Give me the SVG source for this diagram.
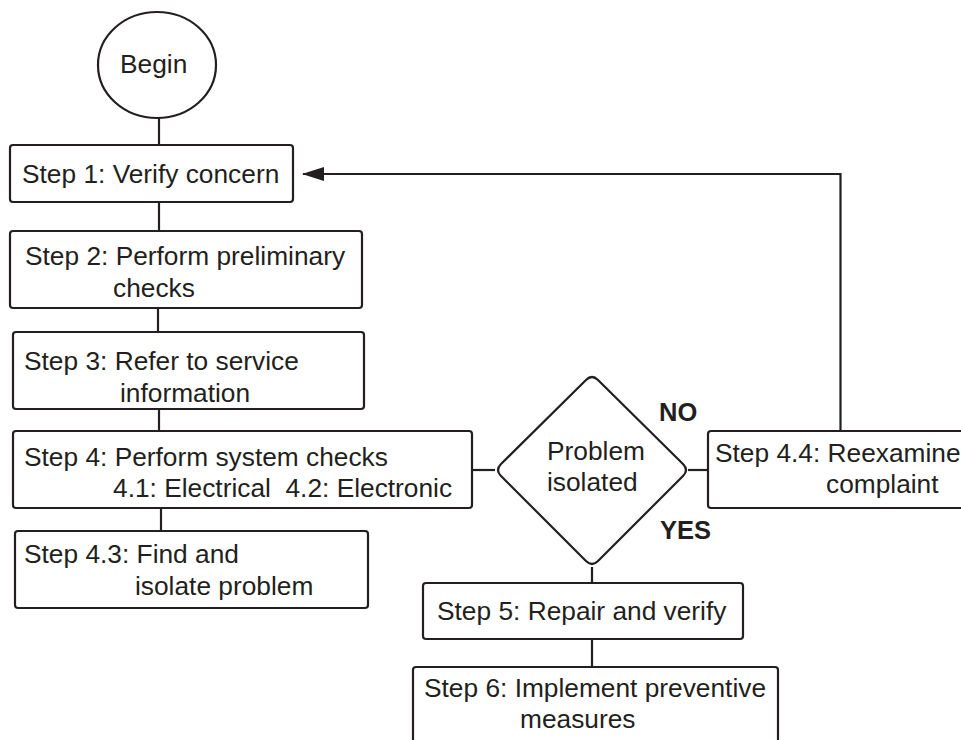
<svg xmlns="http://www.w3.org/2000/svg" width="961" height="740" viewBox="0 0 961 740">
<defs>
<style>
.box{fill:#fff;stroke:#231f20;stroke-width:2.2}
.ln{fill:none;stroke:#231f20;stroke-width:2.2}
text{font-family:"Liberation Sans",Arial,sans-serif;font-size:26.3px;fill:#231f20}
.b{font-weight:bold;font-size:25.5px}
</style>
<marker id="arr" viewBox="0 0 22 14" refX="21" refY="7" markerWidth="22" markerHeight="14" markerUnits="userSpaceOnUse" orient="auto">
<path d="M0,0 L22,7 L0,14 Z" fill="#231f20"/>
</marker>
</defs>
<rect width="961" height="740" fill="#fff"/>
<g id="connectors">
<line class="ln" x1="159" y1="118" x2="159" y2="145"/>
<line class="ln" x1="159" y1="202" x2="159" y2="231"/>
<line class="ln" x1="158" y1="308" x2="158" y2="332"/>
<line class="ln" x1="159" y1="409" x2="159" y2="431"/>
<line class="ln" x1="161" y1="508" x2="161" y2="531"/>
<line class="ln" x1="472" y1="470" x2="495" y2="470"/>
<line class="ln" x1="688" y1="470" x2="708" y2="470"/>
<line class="ln" x1="592" y1="567" x2="592" y2="583"/>
<line class="ln" x1="592" y1="639" x2="592" y2="667"/>
<path class="ln" d="M840.5,431 V174 H303" marker-end="url(#arr)"/>
</g>
<g id="begin">
<ellipse class="box" cx="157" cy="65" rx="59" ry="53"/>
<text x="120" y="73">Begin</text>
</g>
<g id="step1">
<rect class="box" x="10" y="145" width="283" height="57" rx="3"/>
<text x="22" y="183">Step 1: Verify concern</text>
</g>
<g id="step2">
<rect class="box" x="10" y="231" width="352" height="77" rx="3"/>
<text x="25" y="265">Step 2: Perform preliminary</text>
<text x="113" y="297">checks</text>
</g>
<g id="step3">
<rect class="box" x="13" y="332" width="351" height="77" rx="3"/>
<text x="24" y="370">Step 3: Refer to service</text>
<text x="120" y="402">information</text>
</g>
<g id="step4">
<rect class="box" x="13" y="431" width="459" height="77" rx="3"/>
<text x="24" y="466">Step 4: Perform system checks</text>
<text x="113" y="497" xml:space="preserve">4.1: Electrical  4.2: Electronic</text>
</g>
<g id="step4_3">
<rect class="box" x="15" y="531" width="353" height="77" rx="3"/>
<text x="24" y="563">Step 4.3: Find and</text>
<text x="135" y="595">isolate problem</text>
</g>
<g id="decision">
<path class="box" stroke-linejoin="round" d="M586,380 Q592,374 598,380 L683,464 Q689,470 683,476 L598,561 Q592,567 586,561 L501,476 Q495,470 501,464 Z"/>
<text x="547" y="460">Problem</text>
<text x="547" y="491">isolated</text>
<text class="b" x="659" y="421">NO</text>
<text class="b" x="660" y="539">YES</text>
</g>
<g id="step4_4">
<rect class="box" x="708" y="431" width="262" height="77" rx="3"/>
<text x="715" y="462">Step 4.4: Reexamine</text>
<text x="826" y="493">complaint</text>
</g>
<g id="step5">
<rect class="box" x="423" y="583" width="320" height="56" rx="3"/>
<text x="437" y="620">Step 5: Repair and verify</text>
</g>
<g id="step6">
<rect class="box" x="413" y="667" width="365" height="90" rx="3"/>
<text x="424" y="697">Step 6: Implement preventive</text>
<text x="520" y="728">measures</text>
</g>
</svg>
